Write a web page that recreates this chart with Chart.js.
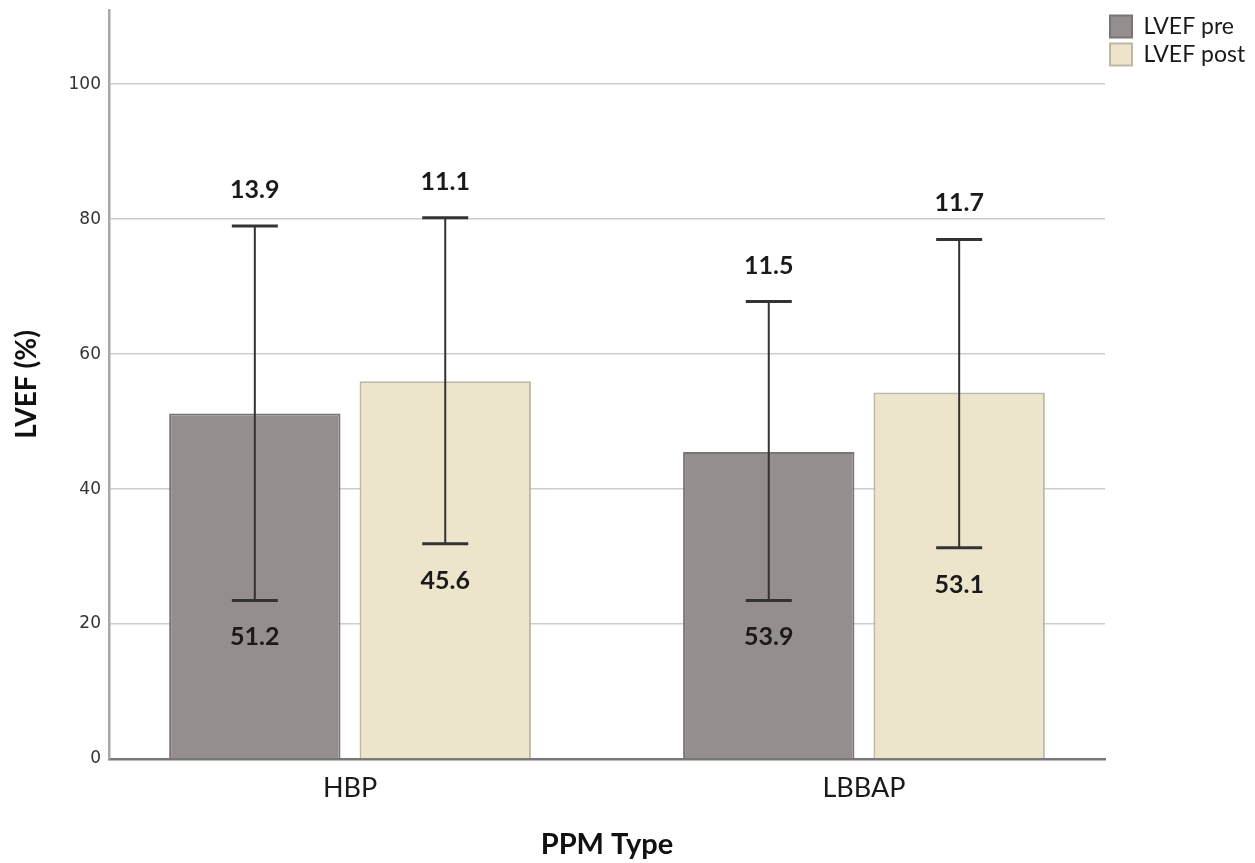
<!DOCTYPE html>
<html>
<head>
<meta charset="utf-8">
<script src="https://cdn.jsdelivr.net/npm/chart.js@4.4.0/dist/chart.umd.min.js"></script>
<style>
html, body { margin: 0; padding: 0; background: #fff; }
#wrap { width: 1255px; height: 863px; position: relative; }
</style>
</head>
<body>
<div id="wrap"><canvas id="lvef"></canvas></div>
<script>
// values
var categories = ["HBP", "LBBAP"];
var seriesNames = ["LVEF pre", "LVEF post"];
var preMean = [51.2, 45.5];
var postMean = [56.0, 54.3];
var preLow = [23.5, 23.5];
var preHigh = [79.0, 67.8];
var postLow = [31.9, 31.3];
var postHigh = [80.2, 77.0];
// labels printed on the figure
var preMeanText = ["51.2", "53.9"];
var postMeanText = ["45.6", "53.1"];
var preSdText = ["13.9", "11.5"];
var postSdText = ["11.1", "11.7"];
var yTicks = [0, 20, 40, 60, 80, 100];

// bars sit on category index 0, 1 of a numeric x axis
function points(vals) {
  return vals.map(function (v, i) { return { x: i, y: v }; });
}

var errorBars = {
  id: "errorBars",
  afterDatasetsDraw: function (chart) {
    var ctx = chart.ctx, y = chart.scales.y;
    chart.data.datasets.forEach(function (ds, di) {
      chart.getDatasetMeta(di).data.forEach(function (bar, i) {
        var x = bar.x;
        var yl = y.getPixelForValue(ds.errLow[i]);
        var yh = y.getPixelForValue(ds.errHigh[i]);
        ctx.save();
        ctx.strokeStyle = "#333";
        ctx.lineWidth = 2;
        ctx.beginPath();
        ctx.moveTo(x, yl);
        ctx.lineTo(x, yh);
        ctx.stroke();
        ctx.lineWidth = 3;
        ctx.beginPath();
        ctx.moveTo(x - 23, yh); ctx.lineTo(x + 23, yh);
        ctx.moveTo(x - 23, yl); ctx.lineTo(x + 23, yl);
        ctx.stroke();
        ctx.fillStyle = "#1a1a1a";
        ctx.font = "bold 25px Lato";
        ctx.textAlign = "center";
        ctx.textBaseline = "middle";
        ctx.fillText(ds.sdText[i], x, yh - 36);
        ctx.fillText(ds.meanText[i], x, yl + 37);
        ctx.restore();
      });
    });
  }
};

new Chart(document.getElementById("lvef"), {
  type: "bar",
  data: {
    datasets: [
      {
        label: seriesNames[0],
        data: points(preMean),
        errLow: preLow, errHigh: preHigh,
        meanText: preMeanText, sdText: preSdText,
        backgroundColor: "#958e8e",
        borderColor: "#7a7474",
        borderWidth: 2
      },
      {
        label: seriesNames[1],
        data: points(postMean),
        errLow: postLow, errHigh: postHigh,
        meanText: postMeanText, sdText: postSdText,
        backgroundColor: "#ece5cc",
        borderColor: "#bdb8a6",
        borderWidth: 2
      }
    ]
  },
  options: {
    responsive: true,
    maintainAspectRatio: false,
    animation: false,
    categoryPercentage: 0.741,
    barPercentage: 0.9,
    layout: { padding: { top: 10, right: 0, left: 0, bottom: 0 } },
    plugins: {
      tooltip: { enabled: false },
      legend: {
        position: "right",
        align: "start",
        maxWidth: 150,
        labels: {
          font: { family: "Lato", size: 23 },
          color: "#1a1a1a",
          boxWidth: 22,
          boxHeight: 22,
          padding: 5
        }
      }
    },
    scales: {
      x: {
        type: "linear",
        offset: false,
        min: -0.469,
        max: 1.469,
        afterBuildTicks: function (s) {
          s.ticks = categories.map(function (c, i) { return { value: i }; });
        },
        grid: { display: false, drawTicks: false },
        border: { color: "#777", width: 2.5 },
        ticks: {
          font: { family: "Lato", size: 27 },
          color: "#1a1a1a",
          padding: 13,
          callback: function (v) { return categories[v]; }
        },
        title: {
          display: true,
          text: "PPM Type",
          font: { family: "Lato", size: 29, weight: "bold" },
          color: "#111",
          padding: { top: 0, bottom: 1 }
        },
        afterFit: function (s) { s.height = 104; }
      },
      y: {
        min: 0,
        max: 111,
        afterBuildTicks: function (s) {
          s.ticks = yTicks.map(function (v) { return { value: v }; });
        },
        grid: { color: "#cdcdcd", lineWidth: 1.5, drawTicks: false },
        border: { color: "#a8a8a8", width: 2.5 },
        ticks: { font: { family: "DejaVu Sans", size: 17 }, color: "#333", padding: 8 },
        title: {
          display: true,
          text: "LVEF (%)",
          font: { family: "Lato", size: 28, weight: "bold" },
          color: "#111",
          padding: { top: 10, bottom: 0 }
        },
        afterFit: function (s) { s.width = 109; s.paddingTop = 0; }
      }
    }
  },
  plugins: [errorBars]
});
</script>
</body>
</html>
